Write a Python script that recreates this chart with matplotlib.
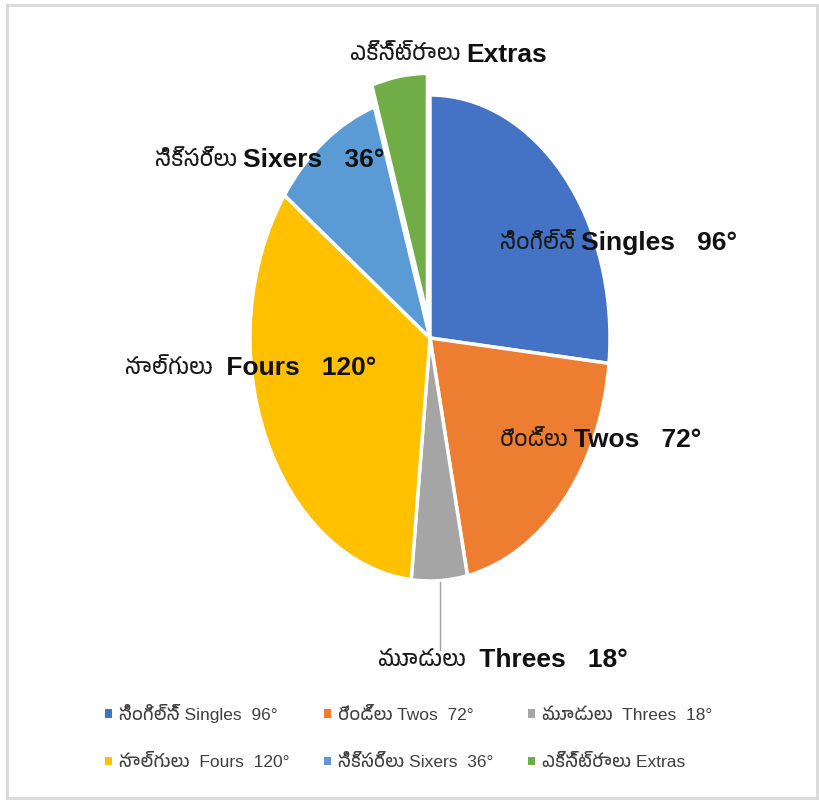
import matplotlib
matplotlib.use("Agg")
import matplotlib.pyplot as plt
from matplotlib import font_manager
from matplotlib.patches import Patch
from matplotlib.lines import Line2D

# slice data (degrees)
telugu = ["సింగిల్స్", "రెండ్లు", "మూడులు", "నాల్గులు", "సిక్సర్లు", "ఎక్స్ట్రాలు"]
english = ["Singles", "Twos", "Threes", "Fours", "Sixers", "Extras"]
degrees = [96, 72, 18, 120, 36, 18]
deg_text = ["96°", "72°", "18°", "120°", "36°", ""]
colors = ["#4472C4", "#ED7D31", "#A5A5A5", "#FFC000", "#5B9BD5", "#70AD47"]
explode = [0, 0, 0, 0, 0, 0.09]
leg_txt = ["సింగిల్స్ Singles  96°", "రెండ్లు Twos  72°", "మూడులు  Threes  18°",
           "నాల్గులు  Fours  120°", "సిక్సర్లు Sixers  36°", "ఎక్స్ట్రాలు Extras"]

# pick a font that has telugu glyphs if one is installed
names = sorted({f.name for f in font_manager.fontManager.ttflist})
tel_fonts = [n for n in names if "Telugu" in n]
fam = ["Liberation Sans"] + tel_fonts + ["Noto Sans", "DejaVu Sans"]
plt.rcParams["font.family"] = fam

W, H = 820, 801
fig = plt.figure(figsize=(W / 100, H / 100), dpi=100)

# pie is drawn stretched vertically, like the reference
cx, cy, rx, ry = 430, 338, 180, 243
ax = fig.add_axes([(cx - rx) / W, 1 - (cy + ry) / H, 2 * rx / W, 2 * ry / H])
wedges, _ = ax.pie(degrees, colors=colors, startangle=90, counterclock=False,
                   explode=explode,
                   wedgeprops=dict(edgecolor="white", linewidth=2.5))
for w in wedges:
    w.set_clip_on(False)
ax.set_aspect("auto")
ax.set_xlim(-1, 1)
ax.set_ylim(-1, 1)
ax.axis("off")


def px(x, y):
    # pixel -> figure fraction
    return x / W, 1 - y / H


# data labels: (start x, center y) in pixels of the telugu part
label_pos = [(500, 243), (500, 440), (378, 660), (125, 368), (155, 160), (350, 55)]
gaps = ["", "", " ", " ", "", ""]
fig.canvas.draw()
for i, (x, y) in enumerate(label_pos):
    t = fig.text(*px(x, y), telugu[i] + " ", fontsize=15.5, va="center",
                 ha="left", color="#1a1a1a")
    bb = t.get_window_extent(renderer=fig.canvas.get_renderer())
    eng = gaps[i] + english[i]
    if deg_text[i]:
        eng += "   " + deg_text[i]
    fig.text(bb.x1 / W, 1 - y / H, eng, fontsize=19, fontweight="bold",
             va="center", ha="left", color="#111111")

# leader line for Threes
fig.add_artist(Line2D([440 / W, 440 / W], [1 - 582 / H, 1 - 650 / H],
                      color="#a0a0a0", linewidth=1))

# legend
handles = []
labels = []
order = [0, 3, 1, 4, 2, 5]
for k in order:
    handles.append(Patch(facecolor=colors[k], edgecolor="none"))
    labels.append(leg_txt[k])
fig.legend(handles, labels, ncol=3, loc="center left", bbox_to_anchor=px(89, 737),
           frameon=False, fontsize=12.5, handlelength=0.4, handleheight=0.4,
           handletextpad=0.4, columnspacing=2.0, labelspacing=1.8,
           labelcolor="#404040")

# outer frame
frame = [((7, 5), (817, 5)), ((7, 5), (7, 798)), ((7, 798), (817, 798)),
         ((817, 5), (817, 798))]
for (x0, y0), (x1, y1) in frame:
    fig.add_artist(Line2D([x0 / W, x1 / W], [1 - y0 / H, 1 - y1 / H],
                          color="#d9d9d9", linewidth=2))

fig.savefig("out.png", dpi=100, facecolor="white")
